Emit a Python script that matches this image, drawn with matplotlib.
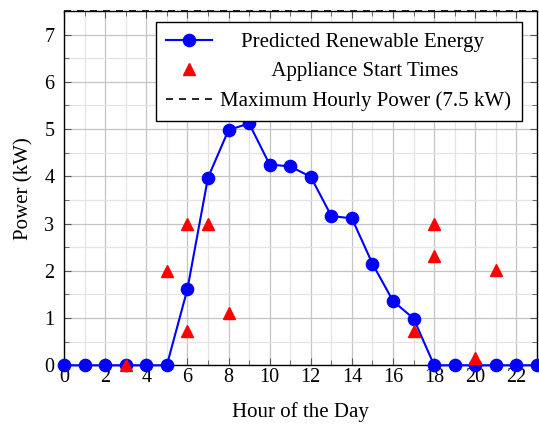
import matplotlib.pyplot as plt
from matplotlib.lines import Line2D
from matplotlib.ticker import MultipleLocator

plt.rcParams['font.family'] = ['Liberation Serif', 'DejaVu Serif']

# hourly predicted renewable energy (kW)
hours = list(range(24))
renewable = [0, 0, 0, 0, 0, 0, 1.61, 3.97, 4.98, 5.12, 4.25, 4.21,
             3.99, 3.16, 3.11, 2.15, 1.36, 0.99, 0, 0, 0, 0, 0, 0]

# appliance start times
start_hours = [3, 5, 6, 6, 7, 8, 17, 18, 18, 20, 21]
start_power = [0.0, 2.0, 3.0, 0.72, 3.0, 1.1, 0.73, 3.0, 2.32, 0.16, 2.01]

max_power = 7.5

fig = plt.figure(figsize=(5.39, 4.24), dpi=100)
ax = fig.add_axes([64 / 539, 1 - 365.3 / 424, (537 - 64) / 539, (365.3 - 11) / 424])

dash = (0, (4.2, 3.6))
ax.plot(hours, renewable, color='blue', marker='o', markersize=8.8, linewidth=1.5,
        clip_on=False, zorder=3)
ax.plot(start_hours, start_power, linestyle='none', marker='^', color='red',
        markersize=8.5, clip_on=False, zorder=4)
ax.axhline(max_power, color='black', linestyle=dash, linewidth=1.2, clip_on=False, zorder=5)

ax.set_xlim(0, 23)
ax.set_ylim(0, 7.5)
ax.xaxis.set_major_locator(MultipleLocator(2))
ax.xaxis.set_minor_locator(MultipleLocator(1))
ax.yaxis.set_major_locator(MultipleLocator(1))
ax.yaxis.set_minor_locator(MultipleLocator(0.5))
ax.grid(which='major', color='#c4c4c4', linewidth=0.9)
ax.grid(which='minor', color='#e4e4e4', linewidth=0.9)
ax.set_axisbelow(True)
ax.tick_params(which='both', direction='in', top=True, right=True, labelsize=14.5,
               color='#555555')
ax.tick_params(axis='x', pad=2)
ax.tick_params(axis='y', pad=7)
ax.tick_params(which='major', length=5)
ax.tick_params(which='minor', length=3.5)
for s in ax.spines.values():
    s.set_linewidth(1.0)

ax.set_xlabel('Hour of the Day', fontsize=15, labelpad=11)
ax.set_ylabel('Power (kW)', fontsize=15, labelpad=8)

handles = [
    Line2D([], [], color='blue', marker='o', markersize=8.8, linewidth=1.5),
    Line2D([], [], color='red', marker='^', linestyle='none', markersize=8.5),
    Line2D([], [], color='black', linestyle=dash, linewidth=1.2),
]
labels = ['    Predicted Renewable Energy',
          '          Appliance Start Times',
          'Maximum Hourly Power (7.5 kW)']
leg = ax.legend(handles, labels, loc='upper right', bbox_to_anchor=(0.968, 0.969),
                fontsize=15, frameon=True, fancybox=False, edgecolor='black',
                framealpha=1, handlelength=2.2, borderpad=0.5, labelspacing=0.47,
                handletextpad=0.4, borderaxespad=0)
leg.get_frame().set_linewidth(1.0)

fig.savefig('out.png', dpi=100)
